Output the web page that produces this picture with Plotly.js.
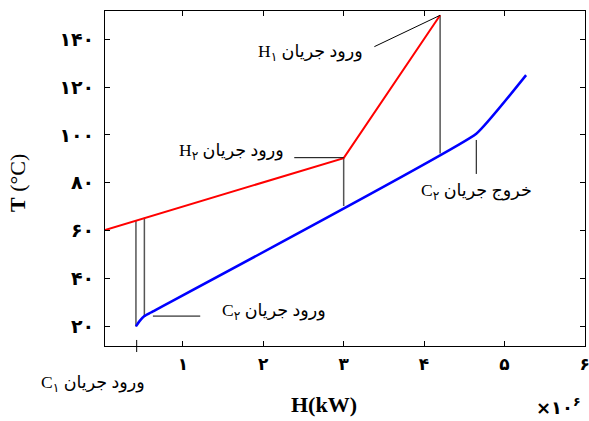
<!DOCTYPE html>
<html>
<head>
<meta charset="utf-8">
<script src="https://cdn.plot.ly/plotly-3.0.1.min.js"></script>
<style>html,body{margin:0;padding:0;background:#fff;}#chart{width:589px;height:421px;}</style>
</head>
<body>
<div id="chart"></div>
<script>
// Hot composite curve (red)
var hotX = [0.03, 3.0, 4.2];
var hotY = [60.3, 90.3, 150.0];
// Cold composite curve (blue)
var coldX = [0.415, 0.46, 0.52, 0.60, 4.65, 5.27];
var coldY = [20.0, 22.2, 24.3, 25.8, 100.5, 125.0];
// Vertical connector lines (grey)
var connX = [0.415, 0.52, 3.0, 4.2];
var connLow = [20.0, 24.3, 70.3, 92.3];
var connHigh = [64.3, 65.4, 90.3, 150.0];
// Axis ticks
var xTickVals = [1, 2, 3, 4, 5, 6];
var xTickText = ['۱', '۲', '۳', '۴', '۵', '۶'];
var yTickVals = [20, 40, 60, 80, 100, 120, 140];
var yTickText = ['۲۰', '۴۰', '۶۰', '۸۰', '۱۰۰', '۱۲۰', '۱۴۰'];

var LRM = '\u200E';
var serif = 'Liberation Serif, DejaVu Sans, serif';
var labelFont = {family: 'Liberation Serif, DejaVu Sans, serif', size: 17.5, color: '#000'};

var cx = [], cy = [];
for (var i = 0; i < connX.length; i++) {
  cx.push(connX[i], connX[i], null);
  cy.push(connLow[i], connHigh[i], null);
}

var traces = [
  {x: cx, y: cy, mode: 'lines', line: {color: '#555', width: 1.5}, hoverinfo: 'skip', showlegend: false},
  {x: hotX, y: hotY, mode: 'lines', line: {color: '#ff0000', width: 2}, showlegend: false},
  {x: coldX, y: coldY, mode: 'lines', line: {color: '#0000ff', width: 2.5, shape: 'spline', smoothing: 0.3}, showlegend: false}
];

var layout = {
  width: 589, height: 421,
  margin: {l: 105, r: 4, t: 11, b: 75},
  paper_bgcolor: '#fff', plot_bgcolor: '#fff',
  showlegend: false,
  xaxis: {
    range: [0.03, 6.003], tickvals: xTickVals, ticktext: xTickText,
    ticks: 'inside', ticklen: 5, tickcolor: '#000', mirror: 'ticks',
    showline: true, linecolor: '#000', linewidth: 1,
    showgrid: false, zeroline: false,
    tickfont: {family: 'DejaVu Sans', size: 17, color: '#000', weight: 'bold'},
    ticklabelstandoff: 3, ticklabeloverflow: 'allow'
  },
  yaxis: {
    range: [11.8, 151.8], tickvals: yTickVals, ticktext: yTickText,
    ticks: 'inside', ticklen: 5, tickcolor: '#000', mirror: 'ticks',
    showline: true, linecolor: '#000', linewidth: 1,
    showgrid: false, zeroline: false,
    tickfont: {family: 'DejaVu Sans', size: 19, color: '#000', weight: 'bold'},
    ticklabelstandoff: 6, ticklabeloverflow: 'allow'
  },
  shapes: [
    {type: 'line', xref: 'x', yref: 'y', x0: 3.382, y0: 136.9, x1: 4.2, y1: 150.0, line: {color: '#000', width: 1}},
    {type: 'line', xref: 'x', yref: 'y', x0: 2.385, y0: 90.5, x1: 3.0, y1: 90.5, line: {color: '#000', width: 1}},
    {type: 'line', xref: 'x', yref: 'y', x0: 0.626, y0: 24.3, x1: 1.215, y1: 24.3, line: {color: '#000', width: 1}},
    {type: 'line', xref: 'x', yref: 'y', x0: 4.65, y0: 97.9, x1: 4.65, y1: 83.7, line: {color: '#000', width: 1}},
    {type: 'line', xref: 'paper', yref: 'paper', x0: 0.066, y0: 0.018, x1: 0.066, y1: -0.018, line: {color: '#000', width: 1}}
  ],
  annotations: [
    {xref: 'x', yref: 'y', x: 3.27, y: 134.4, xanchor: 'right', yanchor: 'middle', showarrow: false,
     text: 'H<sub>۱</sub>' + LRM + ' ورود جریان', font: labelFont},
    {xref: 'x', yref: 'y', x: 2.286, y: 93.05, xanchor: 'right', yanchor: 'middle', showarrow: false,
     text: 'H<sub>۲</sub>' + LRM + ' ورود جریان', font: labelFont},
    {xref: 'x', yref: 'y', x: 1.456, y: 26.1, xanchor: 'left', yanchor: 'middle', showarrow: false,
     text: 'C<sub>۲</sub>' + LRM + ' ورود جریان', font: labelFont},
    {xref: 'x', yref: 'y', x: 4.65, y: 76.3, xanchor: 'center', yanchor: 'middle', showarrow: false,
     text: 'C<sub>۲</sub>' + LRM + ' خروج جریان', font: labelFont},
    {xref: 'paper', yref: 'paper', x: 0.088, y: -0.111, xanchor: 'right', yanchor: 'middle', showarrow: false,
     text: 'C<sub>۱</sub>' + LRM + ' ورود جریان', font: labelFont},
    {xref: 'paper', yref: 'paper', x: 0.995, y: -0.18, xanchor: 'right', yanchor: 'middle', showarrow: false,
     text: '×۱۰<sup>۶</sup>', font: {family: 'DejaVu Sans', size: 18, color: '#000', weight: 'bold'}},
    {xref: 'paper', yref: 'paper', x: 0.456, y: -0.176, xanchor: 'center', yanchor: 'middle', showarrow: false,
     text: 'H(kW)', font: {family: serif, size: 22, color: '#000', weight: 'bold'}},
    {xref: 'paper', yref: 'paper', x: -0.181, y: 0.487, xanchor: 'center', yanchor: 'middle', showarrow: false,
     textangle: -90, text: '<b>T</b> (°C)', font: {family: serif, size: 22, color: '#000'}}
  ]
};

Plotly.newPlot('chart', traces, layout, {staticPlot: true, displayModeBar: false});
</script>
</body>
</html>
